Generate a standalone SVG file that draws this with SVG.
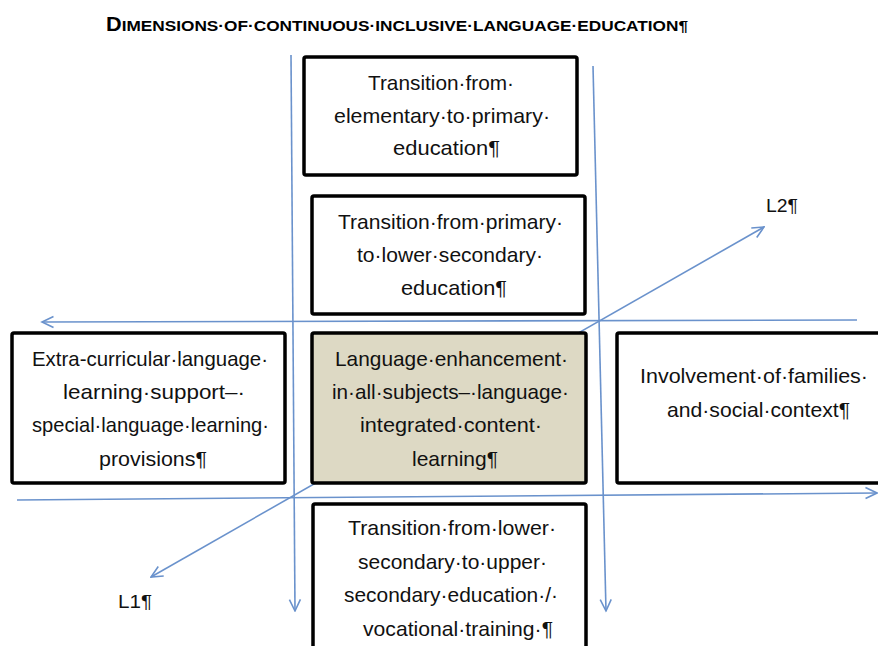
<svg xmlns="http://www.w3.org/2000/svg" width="878" height="646" viewBox="0 0 878 646">
<defs>
<style>
.box{fill:#ffffff;stroke:#000000;stroke-width:3.5}
.core{fill:#ddd9c4;stroke:#000000;stroke-width:3.5}
.ln{fill:none;stroke:#6a92cc;stroke-width:1.6}
.t{font-family:"Liberation Sans",Arial,sans-serif;font-size:21px;fill:#111111}
.lab{font-family:"Liberation Sans",Arial,sans-serif;font-size:19px;fill:#111111}
.title{font-family:"Liberation Sans",Arial,sans-serif;font-weight:bold;fill:#000000}
</style>
<marker id="arr" viewBox="0 0 14 14" refX="12.5" refY="7" markerWidth="14" markerHeight="14" markerUnits="userSpaceOnUse" orient="auto-start-reverse">
<path d="M1,1.5 L12.5,7 L1,12.5" fill="none" stroke="#6a92cc" stroke-width="1.6"/>
</marker>
</defs>
<rect width="878" height="646" fill="#ffffff"/>
<text class="title" x="106" y="31" textLength="582" lengthAdjust="spacingAndGlyphs"><tspan font-size="19.5">D</tspan><tspan font-size="15.5">IMENSIONS·OF·CONTINUOUS·INCLUSIVE·LANGUAGE·EDUCATION¶</tspan></text>
<g id="connectors">
<line class="ln" x1="291" y1="55" x2="295" y2="611" marker-end="url(#arr)"/>
<line class="ln" x1="593" y1="66" x2="606" y2="611" marker-end="url(#arr)"/>
<line class="ln" x1="857" y1="320" x2="42" y2="322" marker-end="url(#arr)"/>
<line class="ln" x1="17" y1="500" x2="877" y2="493" marker-end="url(#arr)"/>
<line class="ln" x1="764" y1="227" x2="151" y2="577" marker-start="url(#arr)" marker-end="url(#arr)"/>
</g>
<g id="node-elementary-primary">
<rect class="box" x="304" y="57" width="273" height="118" rx="2"/>
<text class="t" x="368" y="90" textLength="146" lengthAdjust="spacingAndGlyphs">Transition·from·</text>
<text class="t" x="334" y="122.5" textLength="216" lengthAdjust="spacingAndGlyphs">elementary·to·primary·</text>
<text class="t" x="393" y="155" textLength="107" lengthAdjust="spacingAndGlyphs">education¶</text>
</g>
<g id="node-primary-lower-secondary">
<rect class="box" x="312" y="196" width="273" height="118" rx="2"/>
<text class="t" x="338" y="229" textLength="225" lengthAdjust="spacingAndGlyphs">Transition·from·primary·</text>
<text class="t" x="357" y="262" textLength="186" lengthAdjust="spacingAndGlyphs">to·lower·secondary·</text>
<text class="t" x="401" y="295" textLength="106" lengthAdjust="spacingAndGlyphs">education¶</text>
</g>
<g id="node-extra-curricular">
<rect class="box" x="12" y="333" width="273" height="150" rx="2"/>
<text class="t" x="32" y="366" textLength="236" lengthAdjust="spacingAndGlyphs">Extra-curricular·language·</text>
<text class="t" x="63" y="399" textLength="182" lengthAdjust="spacingAndGlyphs">learning·support–·</text>
<text class="t" x="32" y="432" textLength="237" lengthAdjust="spacingAndGlyphs">special·language·learning·</text>
<text class="t" x="99" y="466" textLength="108" lengthAdjust="spacingAndGlyphs">provisions¶</text>
</g>
<g id="node-language-enhancement">
<rect class="core" x="312" y="333" width="274" height="150" rx="2"/>
<text class="t" x="335" y="366" textLength="233" lengthAdjust="spacingAndGlyphs">Language·enhancement·</text>
<text class="t" x="332" y="399" textLength="237" lengthAdjust="spacingAndGlyphs">in·all·subjects–·language·</text>
<text class="t" x="360" y="432" textLength="182" lengthAdjust="spacingAndGlyphs">integrated·content·</text>
<text class="t" x="412" y="466" textLength="86" lengthAdjust="spacingAndGlyphs">learning¶</text>
</g>
<g id="node-families">
<rect class="box" x="617" y="333" width="290" height="150" rx="2"/>
<text class="t" x="640" y="383" textLength="228" lengthAdjust="spacingAndGlyphs">Involvement·of·families·</text>
<text class="t" x="667" y="417" textLength="183" lengthAdjust="spacingAndGlyphs">and·social·context¶</text>
</g>
<g id="node-upper-secondary">
<rect class="box" x="313" y="504" width="273" height="170" rx="2"/>
<text class="t" x="348" y="535" textLength="208" lengthAdjust="spacingAndGlyphs">Transition·from·lower·</text>
<text class="t" x="358" y="568.5" textLength="189" lengthAdjust="spacingAndGlyphs">secondary·to·upper·</text>
<text class="t" x="344" y="602" textLength="214" lengthAdjust="spacingAndGlyphs">secondary·education·/·</text>
<text class="t" x="363" y="635.5" textLength="190" lengthAdjust="spacingAndGlyphs">vocational·training·¶</text>
</g>
<g id="label-L1">
<text class="lab" x="118" y="608" textLength="34" lengthAdjust="spacingAndGlyphs">L1¶</text>
</g>
<g id="label-L2">
<text class="lab" x="766" y="212" textLength="32" lengthAdjust="spacingAndGlyphs">L2¶</text>
</g>
</svg>
